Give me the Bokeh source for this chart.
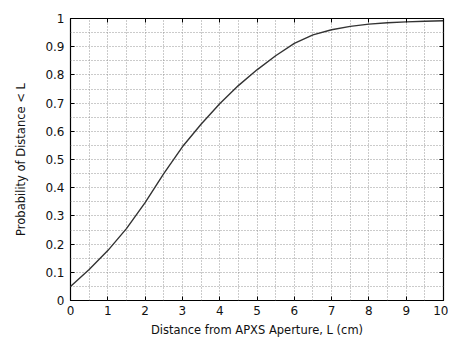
from bokeh.plotting import figure
from bokeh.models import FixedTicker, LinearAxis, Range1d
from bokeh.embed import file_html
from bokeh.resources import INLINE

# Data
distance = [0, 0.5, 1, 1.5, 2, 2.5, 3, 3.5, 4, 4.5, 5, 5.5, 6, 6.5, 7, 7.5, 8, 8.5, 9, 9.5, 10]
probability = [0.05, 0.11, 0.177, 0.255, 0.347, 0.45, 0.545, 0.625, 0.698, 0.762, 0.818,
               0.868, 0.912, 0.942, 0.960, 0.972, 0.980, 0.985, 0.988, 0.990, 0.992]

x_ticks = [0, 1, 2, 3, 4, 5, 6, 7, 8, 9, 10]
x_tick_labels = ["0", "1", "2", "3", "4", "5", "6", "7", "8", "9", "10"]
y_ticks = [0, 0.1, 0.2, 0.3, 0.4, 0.5, 0.6, 0.7, 0.8, 0.9, 1]
y_tick_labels = ["0", "0.1", "0.2", "0.3", "0.4", "0.5", "0.6", "0.7", "0.8", "0.9", "1"]
x_grid = [0.5 * i for i in range(0, 21)]
y_grid = [0.05 * i for i in range(0, 21)]

FONT = "DejaVu Sans"

p = figure(width=448, height=339, output_backend="svg", toolbar_location=None,
           x_range=Range1d(0, 10), y_range=Range1d(0, 1),
           x_axis_label="Distance from APXS Aperture, L (cm)",
           y_axis_label="Probability of Distance < L",
           min_border_left=70, min_border_right=5, min_border_top=18, min_border_bottom=39)

p.outline_line_color = "black"
p.outline_line_width = 1.2
p.outline_line_alpha = 1
p.background_fill_color = "white"
p.border_fill_color = "white"

for ax, ticks, labels in ((p.xaxis[0], x_ticks, x_tick_labels), (p.yaxis[0], y_ticks, y_tick_labels)):
    ax.ticker = FixedTicker(ticks=ticks)
    ax.major_label_overrides = {t: l for t, l in zip(ticks, labels)}
    ax.axis_line_color = None
    ax.major_tick_in = 4
    ax.major_tick_out = 0
    ax.minor_tick_line_color = None
    ax.major_tick_line_color = "black"
    ax.major_label_text_font = FONT
    ax.major_label_text_font_size = "12px"
    ax.major_label_text_color = "#111111"
    ax.axis_label_text_font = FONT
    ax.axis_label_text_font_size = "11.5px"
    ax.axis_label_text_font_style = "normal"
    ax.axis_label_text_color = "#111111"

p.xaxis[0].major_label_standoff = 5
p.xaxis[0].axis_label_standoff = 5
p.yaxis[0].major_label_standoff = 6
p.yaxis[0].axis_label_standoff = 14

# mirror ticks on top and right
top = LinearAxis(ticker=FixedTicker(ticks=x_ticks), major_label_text_font_size="0px",
                 axis_line_color=None, major_tick_in=4, major_tick_out=0,
                 minor_tick_line_color=None, major_label_standoff=0)
right = LinearAxis(ticker=FixedTicker(ticks=y_ticks), major_label_text_font_size="0px",
                   axis_line_color=None, major_tick_in=4, major_tick_out=0,
                   minor_tick_line_color=None, major_label_standoff=0)
top.major_label_overrides = {t: "" for t in x_ticks}
right.major_label_overrides = {t: "" for t in y_ticks}
p.add_layout(top, "above")
p.add_layout(right, "right")

p.xgrid.ticker = FixedTicker(ticks=x_grid)
p.ygrid.ticker = FixedTicker(ticks=y_grid)
for g in (p.xgrid[0], p.ygrid[0]):
    g.grid_line_color = "#8c8c8c"
    g.grid_line_dash = "1 2"
    g.grid_line_width = 1
    g.grid_line_alpha = 0.9

p.line(distance, probability, line_color="#333333", line_width=1.4)

open("out.html", "w").write(file_html(p, INLINE))
